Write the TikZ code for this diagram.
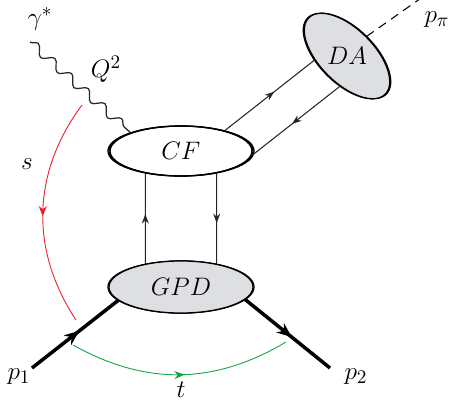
\documentclass[tikz,border=0pt]{standalone}
\usepackage{tikz}
\usetikzlibrary{positioning, arrows.meta, shapes.geometric, calc, decorations.pathmorphing, decorations.markings}
\definecolor{blobgray}{RGB}{222,223,226}
\definecolor{sred}    {RGB}{235,30,45}
\definecolor{tgreen}  {RGB}{20,160,70}
\tikzset{
  % Amplitude blob (thicker at the sides)
  blob/.style={
    ellipse, draw, line width=0.7pt, inner sep=0pt,
    minimum width=2.88cm, minimum height=1.0cm,
    font=\fontsize{15.5}{18}\selectfont,
    preaction={draw, line width=0.7pt, transform canvas={xshift=0.6pt}},
    preaction={draw, line width=0.7pt, transform canvas={xshift=-0.6pt}}
  },
  lbl/.style={font=\fontsize{15}{18}\selectfont, inner sep=0pt},
  % Quark line with arrow in the middle
  quark/.style={line width=0.6pt, color=black!85, postaction={decorate},
    decoration={markings, mark=at position 0.55 with {\arrow{Stealth[length=1.9mm, width=1.4mm]}}}},
  % Hadron line
  hadron/.style={line width=2pt, postaction={decorate},
    decoration={markings, mark=at position 0.55 with {\arrow{Stealth[length=3mm, width=2.4mm]}}}},
  photon/.style={line width=0.7pt, color=black!85, decorate,
    decoration={snake, segment length=0.45cm, amplitude=0.09cm}},
  % Kinematic arcs
  sarc/.style={line width=0.5pt, color=sred, postaction={decorate},
    decoration={markings, mark=at position 0.52 with {\arrow{Stealth[length=2mm, width=1.6mm]}}}},
  tarc/.style={line width=0.5pt, color=tgreen, postaction={decorate},
    decoration={markings, mark=at position 0.52 with {\arrow{Stealth[length=2mm, width=1.6mm]}}}},
}

\begin{document}
\begin{tikzpicture}[x=0.02cm, y=-0.02cm]
  \useasboundingbox (0,0) rectangle (456,403);
  % blobs
  \node[blob] (cf) at (181,151) {$CF$};
  \node[blob, fill=blobgray, minimum height=1.04cm] (gpd) at (181,287) {$GPD$};
  \node[blob, fill=blobgray, rotate=-45, minimum width=2.16cm, minimum height=1.08cm] (da) at (347,56) {};
  \node[lbl, font=\fontsize{15.5}{18}\selectfont] (datext) at (da.center) {$DA$};
  % free ends
  \coordinate (gstart) at (30,42);
  \coordinate (pone)   at (32,368);
  \coordinate (ptwo)   at (330,368);
  \coordinate (pend)   at (424,-4);
  \coordinate (sbeg)   at (82,105);
  \coordinate (send)   at (76,320);
  \coordinate (tbeg)   at (73,345);
  \coordinate (tend)   at (286,342);
  % lines
  \draw[photon] (gstart) -- (cf.160);
  \draw[quark] (cf.25) -- (da.-128);
  \draw[quark] (da.-58) -- (cf.-3);
  \draw[line width=0.6pt, dashed, dash pattern=on 5pt off 3.5pt] (da.north) -- (pend);
  \draw[quark] (gpd.147) -- (cf.212);
  \draw[quark] (cf.-32) -- (gpd.33);
  \draw[hadron] (pone) -- (gpd.192);
  \draw[hadron] (gpd.-11) -- (ptwo);
  \draw[sarc] (sbeg) to[bend right=35] (send);
  \draw[tarc] (tbeg) to[bend right=30] (tend);
  % labels
  \node[lbl] (gam) at (40,19)  {$\gamma^*$};
  \node[lbl] (qsq) at (106,69) {$Q^2$};
  \node[lbl] (slb) at (27,164) {$s$};
  \node[lbl] (tlb) at (181,390) {$t$};
  \node[lbl] (plo) at (19,377) {$p_1$};
  \node[lbl] (plt) at (356,377) {$p_2$};
  \node[lbl] (ppi) at (437,20) {$p_\pi$};
\end{tikzpicture}
\end{document}
